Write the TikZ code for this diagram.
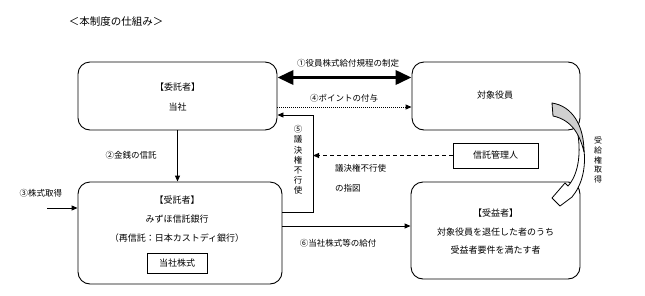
\documentclass[tikz,border=0pt]{standalone}
\usepackage{fontspec}
\setmainfont{Noto Sans CJK JP}
\usetikzlibrary{arrows.meta}
\tikzset{
  rbox/.style={draw, line width=0.9pt, rounded corners=12pt, inner sep=0pt},
  sbox/.style={draw, line width=0.9pt, inner sep=0pt},
  txt/.style={inner sep=0pt, font=\fontsize{9}{10}\selectfont},
  lbl/.style={inner sep=0pt, font=\fontsize{8.5}{10}\selectfont},
  arr/.style={line width=0.9pt, -{Triangle[length=6pt,width=5pt]}},
  thickarr/.style={line width=3.5pt, {Triangle[length=16pt,width=14pt]}-{Triangle[length=16pt,width=14pt]}},
  dotarr/.style={line width=1pt, dash pattern=on 1pt off 1pt, -{Triangle[length=6pt,width=5pt]}},
  dasharr/.style={line width=0.9pt, dash pattern=on 4pt off 3pt, -{Triangle[length=6pt,width=5pt]}},
}
\begin{document}
\begin{tikzpicture}[x=1pt,y=-1pt]
\useasboundingbox[fill=white] (0,0) rectangle (645,295);

% title
\node[inner sep=0pt, font=\fontsize{10.5}{12}\selectfont] (title) at (116,22) {＜本制度の仕組み＞};

% boxes
\node[rbox, minimum width=199pt, minimum height=68pt] (itaku) at (177.5,96) {};
\node[txt] (itakuA) at (177.5,87) {【委託者】};
\node[txt] (itakuB) at (177.5,107) {当社};

\node[rbox, minimum width=168pt, minimum height=68pt] (taisho) at (496,96) {};
\node[txt] (taishoA) at (495,95) {対象役員};

\node[rbox, minimum width=204pt, minimum height=102pt] (jutaku) at (180,233) {};
\node[txt] (jutakuA) at (177,200) {【受託者】};
\node[txt] (jutakuB) at (177,219) {みずほ信託銀行};
\node[txt] (jutakuC) at (177,238) {（再信託：日本カストディ銀行）};
\node[sbox, minimum width=60pt, minimum height=20pt, txt] (kabu) at (177,263) {当社株式};

\node[rbox, minimum width=169pt, minimum height=97pt] (jueki) at (495.5,230.5) {};
\node[txt] (juekiA) at (495.5,213) {【受益者】};
\node[txt] (juekiB) at (495.5,232) {対象役員を退任した者のうち};
\node[txt] (juekiC) at (495.5,250) {受益者要件を満たす者};

\node[sbox, minimum width=85pt, minimum height=25pt, txt] (kanri) at (495.5,155.5) {信託管理人};

% labels
\node[lbl] (l1) at (348,63) {①役員株式給付規程の制定};
\node[lbl] (l4) at (344,98) {④ポイントの付与};
\node[lbl] (l2) at (131,155) {②金銭の信託};
\node[lbl] (l3) at (41,193) {③株式取得};
\node[lbl] (l6) at (338,243) {⑥当社株式等の給付};
\node[lbl, anchor=west] (l7a) at (335,168) {議決権不行使};
\node[lbl, anchor=west] (l7b) at (335,188) {の指図};
\node[inner sep=0pt, align=center, font=\fontsize{8.5}{10.2}\selectfont] (l5) at (298,160) {⑤\\議\\決\\権\\不\\行\\使};
\node[inner sep=0pt, align=center, font=\fontsize{8}{9.6}\selectfont] (lr) at (598,160) {受\\給\\権\\取\\得};

% connectors
\draw[thickarr] (itaku.east |- 0,77.5) -- (taisho.west |- 0,77.5);
\draw[dotarr] (itaku.east |- 0,107) -- (taisho.west |- 0,107);
\draw[arr] (itaku.south) -- (itaku.south |- jutaku.north);
\coordinate (s3) at (47,208);
\draw[arr] (s3) -- (jutaku.west |- s3);
\coordinate (c5a) at (313,212);
\coordinate (c5b) at (313,115);
\draw[line width=0.9pt, -{Triangle[length=6pt,width=5pt]}] (jutaku.east |- c5a) -- (c5a) -- (c5b) -- (itaku.east |- c5b);
\coordinate (c7) at (313,155.5);
\draw[dasharr] (kanri.west) -- (c7);
\coordinate (c6) at (0,226);
\draw[arr] (jutaku.east |- c6) -- (jueki.west |- c6);

% curved arrow (受給権取得)
\fill[white] (578,135) .. controls (581,155) and (578,175) .. (568,186) -- (565,183) -- (552,198) -- (560,206) -- (572,197) .. controls (582,185) and (586,168) .. (584,150) -- cycle;
\draw[line width=0.8pt, line join=round] (578,135) .. controls (581,155) and (578,175) .. (568,186) -- (565,183) -- (552,198) -- (560,206) -- (572,197) .. controls (582,185) and (586,168) .. (584,150);
\draw[line width=0.8pt, fill={rgb,255:red,208;green,208;blue,208}, line join=round] (552,103) .. controls (572,106) and (584,125) .. (584,152) .. controls (580,135) and (572,120) .. (553,116) -- cycle;
\end{tikzpicture}
\end{document}
